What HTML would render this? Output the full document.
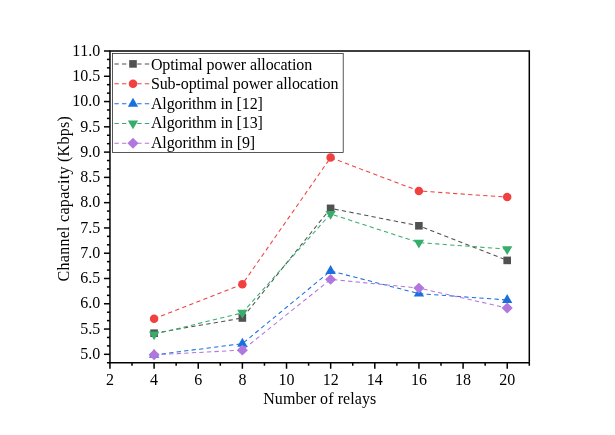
<!DOCTYPE html>
<html><head><meta charset="utf-8"><title>Channel capacity vs number of relays</title>
<style>
html,body{margin:0;padding:0;background:#fff;}
body{width:615px;height:435px;overflow:hidden;font-family:"Liberation Serif",serif;}
svg{display:block;will-change:transform;}
text{font-family:"Liberation Serif",serif;font-size:16px;fill:#000;font-kerning:none;}
</style></head><body>
<svg width="615" height="435" viewBox="0 0 615 435">
<rect x="0" y="0" width="615" height="435" fill="#fff"/>

<g fill="none" stroke-width="1.05" stroke-dasharray="4.3 3.256">
<polyline points="154.10,333.20 242.35,318.00 330.60,208.35 418.90,225.80 507.20,260.40" stroke="#515151" stroke-dashoffset="0"/>
<polyline points="154.10,318.80 242.35,284.20 330.60,157.60 418.90,191.00 507.20,197.10" stroke="#F14040" stroke-dashoffset="0"/>
<polyline points="154.10,354.90 242.35,343.70 330.60,270.95 418.90,293.60 507.20,300.00" stroke="#1A6FDF" stroke-dashoffset="0"/>
<polyline points="154.10,334.40 242.35,312.80 330.60,213.90 418.90,242.60 507.20,249.10" stroke="#37AD6B" stroke-dashoffset="0"/>
<polyline points="154.10,354.80 242.35,350.15 330.60,279.40 418.90,288.10 507.20,308.00" stroke="#B177DE" stroke-dashoffset="0"/>
</g>
<g>
<rect x="150.30" y="329.40" width="7.6" height="7.6" fill="#515151"/>
<rect x="238.55" y="314.20" width="7.6" height="7.6" fill="#515151"/>
<rect x="326.80" y="204.55" width="7.6" height="7.6" fill="#515151"/>
<rect x="415.10" y="222.00" width="7.6" height="7.6" fill="#515151"/>
<rect x="503.40" y="256.60" width="7.6" height="7.6" fill="#515151"/>
<circle cx="154.10" cy="318.80" r="4.25" fill="#F14040"/>
<circle cx="242.35" cy="284.20" r="4.25" fill="#F14040"/>
<circle cx="330.60" cy="157.60" r="4.25" fill="#F14040"/>
<circle cx="418.90" cy="191.00" r="4.25" fill="#F14040"/>
<circle cx="507.20" cy="197.10" r="4.25" fill="#F14040"/>
<polygon points="154.10,349.00 159.25,357.85 148.95,357.85" fill="#1A6FDF"/>
<polygon points="242.35,337.80 247.50,346.65 237.20,346.65" fill="#1A6FDF"/>
<polygon points="330.60,265.05 335.75,273.90 325.45,273.90" fill="#1A6FDF"/>
<polygon points="418.90,287.70 424.05,296.55 413.75,296.55" fill="#1A6FDF"/>
<polygon points="507.20,294.10 512.35,302.95 502.05,302.95" fill="#1A6FDF"/>
<polygon points="154.10,340.30 159.25,331.45 148.95,331.45" fill="#37AD6B"/>
<polygon points="242.35,318.70 247.50,309.85 237.20,309.85" fill="#37AD6B"/>
<polygon points="330.60,219.80 335.75,210.95 325.45,210.95" fill="#37AD6B"/>
<polygon points="418.90,248.50 424.05,239.65 413.75,239.65" fill="#37AD6B"/>
<polygon points="507.20,255.00 512.35,246.15 502.05,246.15" fill="#37AD6B"/>
<polygon points="154.10,349.35 159.65,354.80 154.10,360.25 148.55,354.80" fill="#B177DE"/>
<polygon points="242.35,344.70 247.90,350.15 242.35,355.60 236.80,350.15" fill="#B177DE"/>
<polygon points="330.60,273.95 336.15,279.40 330.60,284.85 325.05,279.40" fill="#B177DE"/>
<polygon points="418.90,282.65 424.45,288.10 418.90,293.55 413.35,288.10" fill="#B177DE"/>
<polygon points="507.20,302.55 512.75,308.00 507.20,313.45 501.65,308.00" fill="#B177DE"/>
</g>
<g stroke="#000" stroke-width="1.5" fill="none" stroke-linecap="butt">
<rect x="109.95" y="51.0" width="419.35" height="311.75"/>
<line x1="103.95" y1="51.00" x2="109.95" y2="51.00"/>
<line x1="106.95" y1="59.43" x2="109.95" y2="59.43"/>
<line x1="106.95" y1="67.85" x2="109.95" y2="67.85"/>
<line x1="103.95" y1="76.28" x2="109.95" y2="76.28"/>
<line x1="106.95" y1="84.70" x2="109.95" y2="84.70"/>
<line x1="106.95" y1="93.13" x2="109.95" y2="93.13"/>
<line x1="103.95" y1="101.55" x2="109.95" y2="101.55"/>
<line x1="106.95" y1="109.98" x2="109.95" y2="109.98"/>
<line x1="106.95" y1="118.41" x2="109.95" y2="118.41"/>
<line x1="103.95" y1="126.83" x2="109.95" y2="126.83"/>
<line x1="106.95" y1="135.26" x2="109.95" y2="135.26"/>
<line x1="106.95" y1="143.68" x2="109.95" y2="143.68"/>
<line x1="103.95" y1="152.11" x2="109.95" y2="152.11"/>
<line x1="106.95" y1="160.53" x2="109.95" y2="160.53"/>
<line x1="106.95" y1="168.96" x2="109.95" y2="168.96"/>
<line x1="103.95" y1="177.39" x2="109.95" y2="177.39"/>
<line x1="106.95" y1="185.81" x2="109.95" y2="185.81"/>
<line x1="106.95" y1="194.24" x2="109.95" y2="194.24"/>
<line x1="103.95" y1="202.66" x2="109.95" y2="202.66"/>
<line x1="106.95" y1="211.09" x2="109.95" y2="211.09"/>
<line x1="106.95" y1="219.51" x2="109.95" y2="219.51"/>
<line x1="103.95" y1="227.94" x2="109.95" y2="227.94"/>
<line x1="106.95" y1="236.36" x2="109.95" y2="236.36"/>
<line x1="106.95" y1="244.79" x2="109.95" y2="244.79"/>
<line x1="103.95" y1="253.22" x2="109.95" y2="253.22"/>
<line x1="106.95" y1="261.64" x2="109.95" y2="261.64"/>
<line x1="106.95" y1="270.07" x2="109.95" y2="270.07"/>
<line x1="103.95" y1="278.49" x2="109.95" y2="278.49"/>
<line x1="106.95" y1="286.92" x2="109.95" y2="286.92"/>
<line x1="106.95" y1="295.34" x2="109.95" y2="295.34"/>
<line x1="103.95" y1="303.77" x2="109.95" y2="303.77"/>
<line x1="106.95" y1="312.20" x2="109.95" y2="312.20"/>
<line x1="106.95" y1="320.62" x2="109.95" y2="320.62"/>
<line x1="103.95" y1="329.05" x2="109.95" y2="329.05"/>
<line x1="106.95" y1="337.47" x2="109.95" y2="337.47"/>
<line x1="106.95" y1="345.90" x2="109.95" y2="345.90"/>
<line x1="103.95" y1="354.32" x2="109.95" y2="354.32"/>
<line x1="106.95" y1="362.75" x2="109.95" y2="362.75"/>
<line x1="109.95" y1="362.75" x2="109.95" y2="368.75"/>
<line x1="132.02" y1="362.75" x2="132.02" y2="365.75"/>
<line x1="154.09" y1="362.75" x2="154.09" y2="368.75"/>
<line x1="176.16" y1="362.75" x2="176.16" y2="365.75"/>
<line x1="198.23" y1="362.75" x2="198.23" y2="368.75"/>
<line x1="220.31" y1="362.75" x2="220.31" y2="365.75"/>
<line x1="242.38" y1="362.75" x2="242.38" y2="368.75"/>
<line x1="264.45" y1="362.75" x2="264.45" y2="365.75"/>
<line x1="286.52" y1="362.75" x2="286.52" y2="368.75"/>
<line x1="308.59" y1="362.75" x2="308.59" y2="365.75"/>
<line x1="330.66" y1="362.75" x2="330.66" y2="368.75"/>
<line x1="352.73" y1="362.75" x2="352.73" y2="365.75"/>
<line x1="374.80" y1="362.75" x2="374.80" y2="368.75"/>
<line x1="396.87" y1="362.75" x2="396.87" y2="365.75"/>
<line x1="418.94" y1="362.75" x2="418.94" y2="368.75"/>
<line x1="441.02" y1="362.75" x2="441.02" y2="365.75"/>
<line x1="463.09" y1="362.75" x2="463.09" y2="368.75"/>
<line x1="485.16" y1="362.75" x2="485.16" y2="365.75"/>
<line x1="507.23" y1="362.75" x2="507.23" y2="368.75"/>
<line x1="529.30" y1="362.75" x2="529.30" y2="365.75"/>
</g>
<g text-anchor="end">
<text x="100.3" y="55.70">11.0</text>
<text x="100.3" y="80.98">10.5</text>
<text x="100.3" y="106.25">10.0</text>
<text x="100.3" y="131.53">9.5</text>
<text x="100.3" y="156.81">9.0</text>
<text x="100.3" y="182.09">8.5</text>
<text x="100.3" y="207.36">8.0</text>
<text x="100.3" y="232.64">7.5</text>
<text x="100.3" y="257.92">7.0</text>
<text x="100.3" y="283.19">6.5</text>
<text x="100.3" y="308.47">6.0</text>
<text x="100.3" y="333.75">5.5</text>
<text x="100.3" y="359.02">5.0</text>
</g>
<g text-anchor="middle">
<text x="109.95" y="385">2</text>
<text x="154.09" y="385">4</text>
<text x="198.23" y="385">6</text>
<text x="242.38" y="385">8</text>
<text x="286.52" y="385">10</text>
<text x="330.66" y="385">12</text>
<text x="374.80" y="385">14</text>
<text x="418.94" y="385">16</text>
<text x="463.09" y="385">18</text>
<text x="507.23" y="385">20</text>
<text x="319.7" y="403.6" textLength="113" lengthAdjust="spacing">Number of relays</text>
<text transform="translate(68.9,198.85) rotate(-90)" x="0" y="0" textLength="165.3" lengthAdjust="spacing">Channel capacity (Kbps)</text>
</g>
<rect x="112.6" y="53.55" width="230.6" height="99.0" fill="#fff" stroke="#222" stroke-width="0.75"/>
<g fill="none" stroke-width="1.05" stroke-dasharray="4.4 3.2">
<line x1="114.4" y1="63.9" x2="149.4" y2="63.9" stroke="#515151"/>
<line x1="114.4" y1="83.8" x2="149.4" y2="83.8" stroke="#F14040"/>
<line x1="114.4" y1="103.7" x2="149.4" y2="103.7" stroke="#1A6FDF"/>
<line x1="114.4" y1="123.4" x2="149.4" y2="123.4" stroke="#37AD6B"/>
<line x1="114.4" y1="143.2" x2="149.4" y2="143.2" stroke="#B177DE"/>
</g>
<rect x="129.20" y="60.10" width="7.6" height="7.6" fill="#515151"/>
<circle cx="133.00" cy="83.80" r="4.25" fill="#F14040"/>
<polygon points="133.00,97.80 138.15,106.65 127.85,106.65" fill="#1A6FDF"/>
<polygon points="133.00,129.30 138.15,120.45 127.85,120.45" fill="#37AD6B"/>
<polygon points="133.00,137.75 138.55,143.20 133.00,148.65 127.45,143.20" fill="#B177DE"/>
<text x="150.9" y="69.90" textLength="161.3" lengthAdjust="spacing">Optimal power allocation</text>
<text x="150.9" y="89.40" textLength="187.6" lengthAdjust="spacing">Sub-optimal power allocation</text>
<text x="150.9" y="109.30" textLength="112.0" lengthAdjust="spacing">Algorithm in [12]</text>
<text x="150.9" y="128.40" textLength="112.0" lengthAdjust="spacing">Algorithm in [13]</text>
<text x="150.9" y="148.10" textLength="104.3" lengthAdjust="spacing">Algorithm in [9]</text>
</svg></body></html>
